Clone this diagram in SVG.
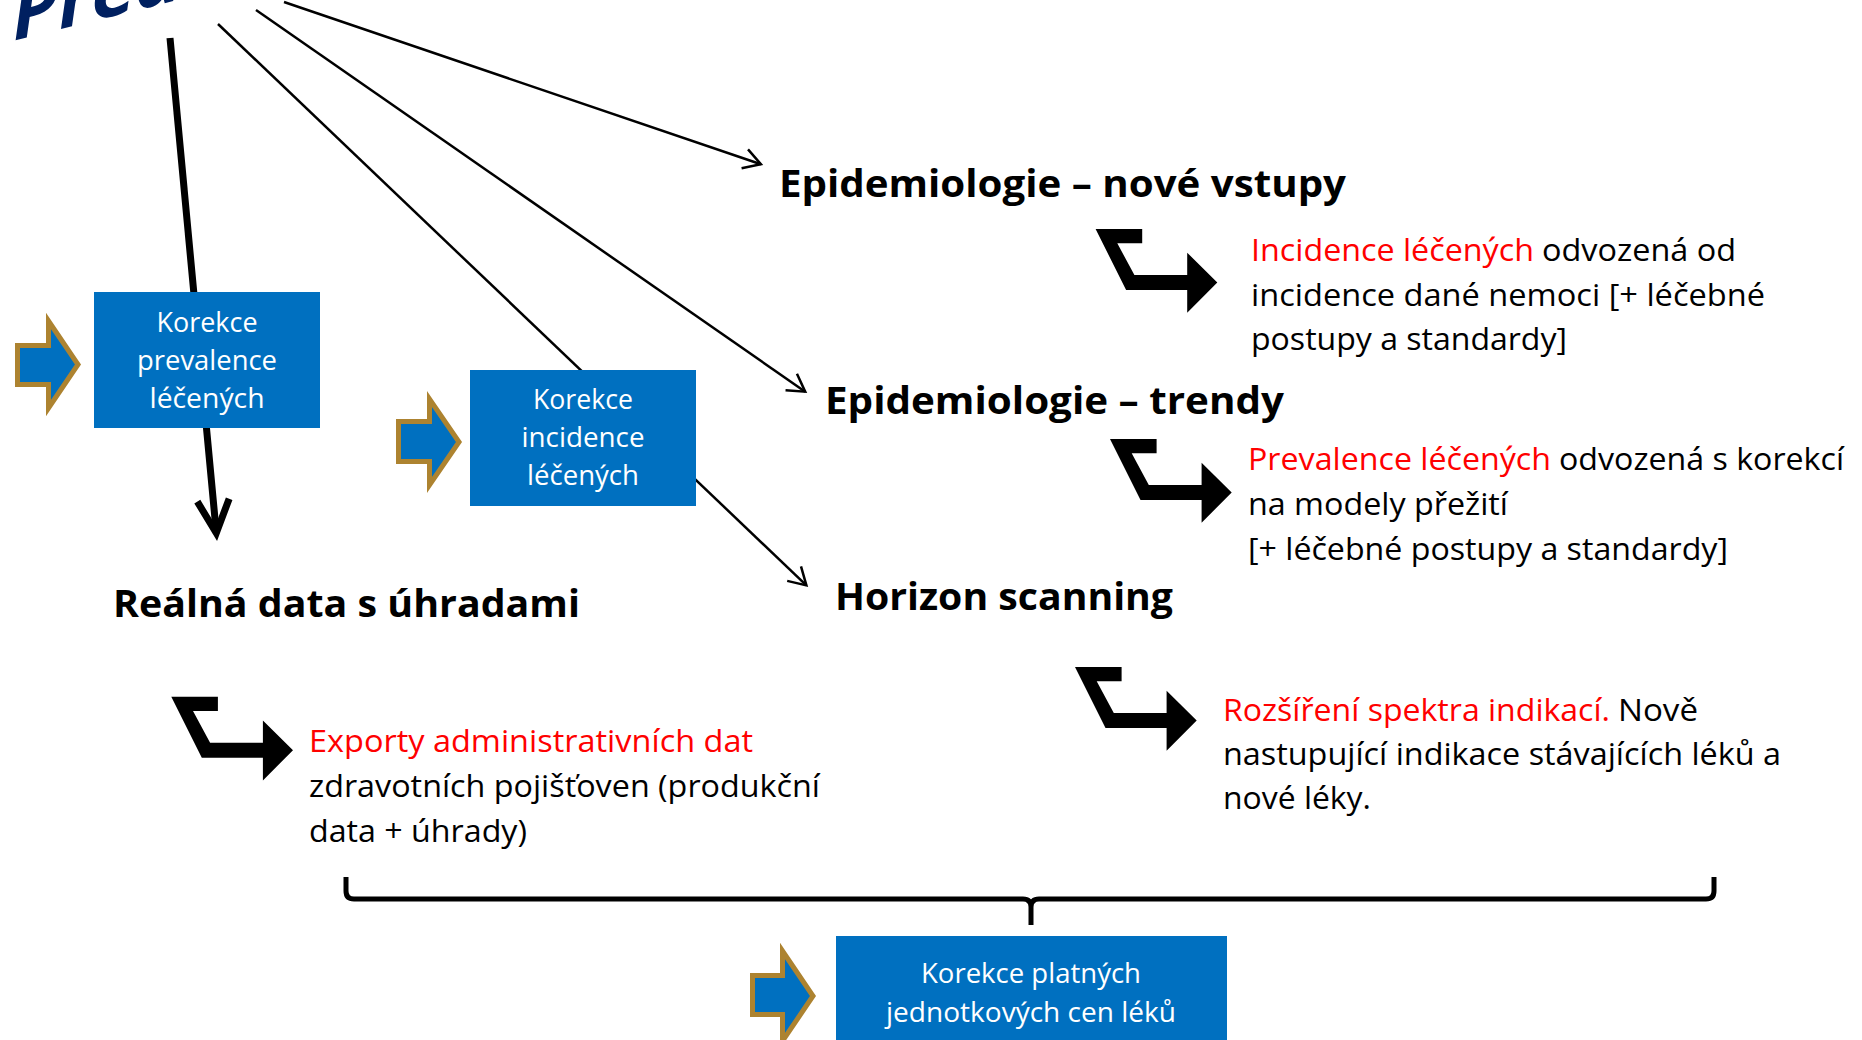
<svg xmlns="http://www.w3.org/2000/svg" width="1862" height="1040" viewBox="0 0 1862 1040">
<defs>
<style>
.bt{font-family:"Open Sans","Liberation Sans",sans-serif;font-weight:bold;font-size:38px;fill:#000}
.tx{font-family:"Open Sans","Liberation Sans",sans-serif;font-size:31px;fill:#000}
.red{fill:#FF0000}
.bx{fill:#0070C0}
.bxt{font-family:"Open Sans","Liberation Sans",sans-serif;font-size:27px;fill:#fff;text-anchor:middle}
.gold{fill:#0070C0;stroke:#AD8330;stroke-width:5;stroke-linejoin:miter}
.thin{fill:none;stroke:#000;stroke-width:2.5}
.thick{fill:none;stroke:#000;stroke-width:7}
.bent{fill:#000}
</style>
<marker id="hThin" markerUnits="userSpaceOnUse" markerWidth="40" markerHeight="40" viewBox="-30 -20 40 40" refX="0" refY="0" orient="auto" overflow="visible">
<path d="M-17,-10 L0,0 L-17,10" fill="none" stroke="#000" stroke-width="2.5" stroke-linejoin="miter"/>
</marker>
<marker id="hThick" markerUnits="userSpaceOnUse" markerWidth="60" markerHeight="60" viewBox="-45 -30 60 60" refX="0" refY="0" orient="auto" overflow="visible">
<path d="M-33,-16 L0,0 L-33,16" fill="none" stroke="#000" stroke-width="7" stroke-linejoin="miter"/>
</marker>
<path id="bentShape" d="M0,0 L46.6,0 L46.6,14.3 L21.7,14.3 L38.8,46 L91.6,46 L91.6,23.7 L121.7,53.5 L91.6,83.7 L91.6,61 L30.5,61 Z"/>
</defs>
<rect width="1862" height="1040" fill="#fff"/>

<g id="title">
<text x="0" y="0" transform="translate(9,42) rotate(-14) skewX(-22)" font-family="'Open Sans','Liberation Sans',sans-serif" font-weight="bold" font-size="76" fill="#002060">Pred</text>
</g>

<g id="connectors">
<path class="thick" d="M170,38 L216.3,533" marker-end="url(#hThick)"/>
<path class="thin" d="M218,24 L806.4,585.4" marker-end="url(#hThin)"/>
<path class="thin" d="M256,10 L805.2,391.7" marker-end="url(#hThin)"/>
<path class="thin" d="M284,2 L760.9,164.3" marker-end="url(#hThin)"/>
<path fill="none" stroke="#000" stroke-width="5" d="M346,877 L346,891 Q346,899 354,899 L1023,899 Q1031,899 1031,907 L1031,925 M1031,907 Q1031,899 1039,899 L1706,899 Q1714,899 1714,891 L1714,877"/>
<use href="#bentShape" class="bent" x="1095.6" y="229"/>
<use href="#bentShape" class="bent" x="1110" y="439"/>
<use href="#bentShape" class="bent" x="171.3" y="696.7"/>
<use href="#bentShape" class="bent" x="1075" y="667"/>
</g>

<g id="node-prevalence">
<path class="gold" d="M17.5,345.5 L48.5,345.5 L48.5,321 L78,364.5 L48.5,408 L48.5,384.5 L17.5,384.5 Z"/>
<rect class="bx" x="94" y="292" width="226" height="136"/>
<text class="bxt" x="207" y="332" textLength="101" lengthAdjust="spacingAndGlyphs">Korekce</text>
<text class="bxt" x="207" y="370" textLength="140" lengthAdjust="spacingAndGlyphs">prevalence</text>
<text class="bxt" x="207" y="408" textLength="115" lengthAdjust="spacingAndGlyphs">léčených</text>
</g>

<g id="node-incidence">
<path class="gold" d="M398.5,421.5 L429.5,421.5 L429.5,399 L459,442 L429.5,485 L429.5,461.5 L398.5,461.5 Z"/>
<rect class="bx" x="470" y="370" width="226" height="136"/>
<text class="bxt" x="583" y="409" textLength="100" lengthAdjust="spacingAndGlyphs">Korekce</text>
<text class="bxt" x="583" y="447" textLength="123" lengthAdjust="spacingAndGlyphs">incidence</text>
<text class="bxt" x="583" y="485" textLength="112" lengthAdjust="spacingAndGlyphs">léčených</text>
</g>

<g id="node-ceny">
<path class="gold" d="M752.5,975.5 L782.5,975.5 L782.5,951 L813,996 L782.5,1041 L782.5,1014.5 L752.5,1014.5 Z"/>
<rect class="bx" x="836" y="936" width="391" height="110"/>
<text class="bxt" x="1031" y="983" textLength="220" lengthAdjust="spacingAndGlyphs">Korekce platných</text>
<text class="bxt" x="1031" y="1022" textLength="290" lengthAdjust="spacingAndGlyphs">jednotkových cen léků</text>
</g>

<g id="node-epi-nove">
<text class="bt" x="779" y="197" textLength="567" lengthAdjust="spacingAndGlyphs">Epidemiologie – nové vstupy</text>
</g>
<g id="node-epi-trendy">
<text class="bt" x="825" y="414" textLength="459" lengthAdjust="spacingAndGlyphs">Epidemiologie – trendy</text>
</g>
<g id="node-horizon">
<text class="bt" x="835" y="610" textLength="338" lengthAdjust="spacingAndGlyphs">Horizon scanning</text>
</g>
<g id="node-realna">
<text class="bt" x="113" y="617" textLength="467" lengthAdjust="spacingAndGlyphs">Reálná data s úhradami</text>
</g>

<g id="note-incidence">
<text class="tx red" x="1251" y="261" textLength="283" lengthAdjust="spacingAndGlyphs">Incidence léčených</text>
<text class="tx" x="1542" y="261" textLength="194" lengthAdjust="spacingAndGlyphs">odvozená od</text>
<text class="tx" x="1251" y="306" textLength="514" lengthAdjust="spacingAndGlyphs">incidence dané nemoci [+ léčebné</text>
<text class="tx" x="1251" y="350" textLength="316" lengthAdjust="spacingAndGlyphs">postupy a standardy]</text>
</g>

<g id="note-prevalence">
<text class="tx red" x="1248" y="470" textLength="303" lengthAdjust="spacingAndGlyphs">Prevalence léčených</text>
<text class="tx" x="1559" y="470" textLength="285" lengthAdjust="spacingAndGlyphs">odvozená s korekcí</text>
<text class="tx" x="1248" y="515" textLength="260" lengthAdjust="spacingAndGlyphs">na modely přežití</text>
<text class="tx" x="1248" y="560" textLength="480" lengthAdjust="spacingAndGlyphs">[+ léčebné postupy a standardy]</text>
</g>

<g id="note-exporty">
<text class="tx red" x="309" y="752" textLength="444" lengthAdjust="spacingAndGlyphs">Exporty administrativních dat</text>
<text class="tx" x="309" y="797" textLength="511" lengthAdjust="spacingAndGlyphs">zdravotních pojišťoven (produkční</text>
<text class="tx" x="309" y="842" textLength="218" lengthAdjust="spacingAndGlyphs">data + úhrady)</text>
</g>

<g id="note-rozsireni">
<text class="tx red" x="1223" y="721" textLength="387" lengthAdjust="spacingAndGlyphs">Rozšíření spektra indikací.</text>
<text class="tx" x="1618" y="721" textLength="80" lengthAdjust="spacingAndGlyphs">Nově</text>
<text class="tx" x="1223" y="765" textLength="558" lengthAdjust="spacingAndGlyphs">nastupující indikace stávajících léků a</text>
<text class="tx" x="1223" y="809" textLength="148" lengthAdjust="spacingAndGlyphs">nové léky.</text>
</g>
</svg>
